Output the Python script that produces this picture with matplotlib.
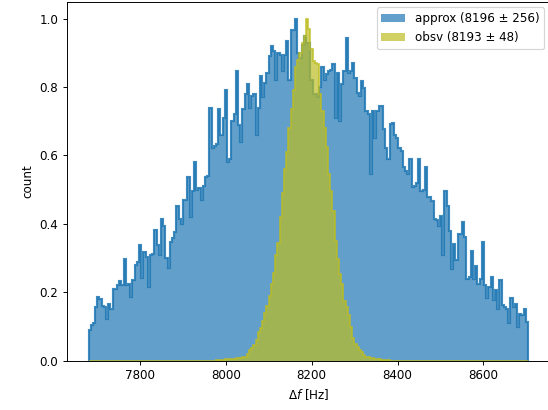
import numpy as np
import matplotlib
matplotlib.use("Agg")
import matplotlib.pyplot as plt

# frequency range shared by both histograms (200 bins)
f_lo, f_hi = 7680, 8704

# normalised counts per bin
approx_counts = [
    0.09, 0.104, 0.11, 0.157, 0.186, 0.18, 0.16, 0.157, 0.123, 0.167,
    0.152, 0.21, 0.21, 0.22, 0.233, 0.22, 0.298, 0.22, 0.223, 0.186,
    0.235, 0.28, 0.29, 0.337, 0.243, 0.317, 0.303, 0.215, 0.308, 0.312,
    0.381, 0.337, 0.308,
    0.414, 0.395, 0.30, 0.27, 0.346, 0.36, 0.376, 0.453, 0.414, 0.40,
    0.47, 0.47, 0.538, 0.42, 0.497, 0.58, 0.50, 0.505, 0.47, 0.51,
    0.538, 0.54, 0.74, 0.623, 0.628, 0.633, 0.735, 0.66, 0.71, 0.79,
    0.58, 0.59, 0.70,
    0.72, 0.847, 0.69, 0.64, 0.735, 0.78, 0.81, 0.74, 0.775, 0.78,
    0.66, 0.74, 0.832, 0.77, 0.813, 0.84, 0.89, 0.92, 0.905, 0.82,
    0.90, 0.895, 0.847, 0.895, 0.934, 0.82, 0.968, 0.968, 1.0, 0.90,
    0.886, 0.924, 0.95, 0.93,
    0.93, 0.82, 0.78, 0.78, 0.77, 0.80, 0.86, 0.82, 0.837, 0.846,
    0.85, 0.866, 0.71, 0.84, 0.70, 0.81, 0.846, 0.944, 0.84, 0.846,
    0.87, 0.827, 0.784, 0.774, 0.817, 0.797, 0.73, 0.72, 0.545, 0.73,
    0.652, 0.73, 0.745, 0.745, 0.676,
    0.623, 0.59, 0.691, 0.696, 0.66, 0.65, 0.623, 0.613, 0.565, 0.555,
    0.545, 0.59, 0.507, 0.512, 0.52, 0.59, 0.497, 0.50, 0.565, 0.478,
    0.478, 0.468, 0.415, 0.41, 0.395, 0.424, 0.308, 0.497, 0.453, 0.38,
    0.268, 0.34, 0.293, 0.37,
    0.371, 0.405, 0.361, 0.24, 0.244, 0.322, 0.24, 0.278, 0.225, 0.24,
    0.346, 0.22, 0.182, 0.216, 0.244, 0.177, 0.206, 0.152, 0.235, 0.162,
    0.157, 0.152, 0.109, 0.182, 0.157, 0.167, 0.10, 0.138, 0.133, 0.152,
    0.114,
]

obsv_counts = [0.0] * 58 + [
    0.001, 0.002, 0.002, 0.003, 0.004, 0.004, 0.005, 0.006, 0.006,
    0.007, 0.007, 0.008, 0.01, 0.012, 0.02, 0.03, 0.038, 0.047, 0.062,
    0.085, 0.097, 0.115, 0.14, 0.16, 0.19, 0.225, 0.255, 0.31, 0.345,
    0.42, 0.49, 0.56, 0.61, 0.68, 0.735, 0.79, 0.86, 0.88, 0.90,
    0.93, 0.95, 1.0, 0.97, 0.91, 0.875, 0.87, 0.866, 0.78, 0.73,
    0.68, 0.624, 0.545, 0.497, 0.439, 0.351, 0.298, 0.254, 0.225, 0.176,
    0.157, 0.133, 0.098, 0.065, 0.05, 0.04, 0.031, 0.026, 0.016, 0.011,
    0.011, 0.007, 0.007, 0.006, 0.004, 0.004, 0.003, 0.002, 0.001, 0.001,
] + [0.0] * 63

approx_label = "approx (8196 ± 256)"
obsv_label = "obsv (8193 ± 48)"

edges = np.linspace(f_lo, f_hi, len(approx_counts) + 1)

dpi = 85.6
fig = plt.figure(figsize=(548 / dpi, 410 / dpi), dpi=dpi)
ax = fig.add_axes([0.1214, 0.1202, 0.8822, 0.8761])

# filled histograms plus their step outlines
ax.stairs(approx_counts, edges, fill=True, facecolor="C0", edgecolor="none",
          alpha=0.7, label=approx_label)
ax.stairs(approx_counts, edges, color="C0", alpha=0.85, linewidth=1.8)
ax.stairs(obsv_counts, edges, fill=True, facecolor="tab:olive", edgecolor="none",
          alpha=0.7, label=obsv_label)
ax.stairs(obsv_counts, edges, color="tab:olive", alpha=0.8, linewidth=1.5)

ax.set_ylim(0, 1.05)
ax.set_xlabel(r"$\Delta f$ [Hz]")
ax.set_ylabel("count")
ax.legend(loc="upper right")

fig.savefig("out.png", dpi=dpi)
